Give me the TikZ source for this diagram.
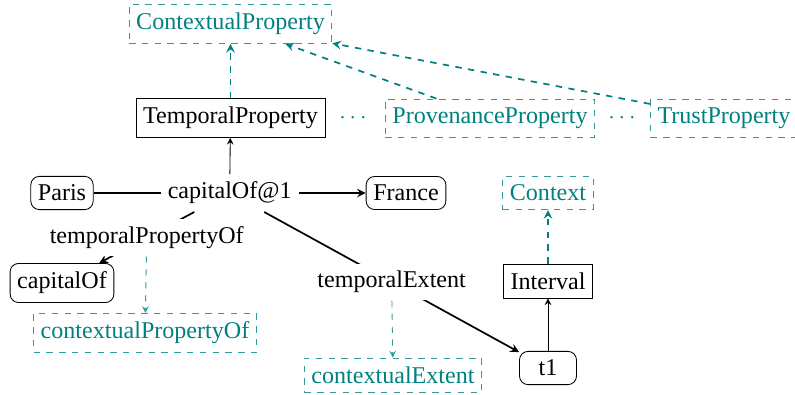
\documentclass[tikz,border=0pt]{standalone}
\usepackage{fontspec}
\setmainfont{Liberation Serif}
\usetikzlibrary{arrows}
\definecolor{ctxcolor}{RGB}{0,128,128}
\tikzset{
    resource/.style={draw, rounded corners=4pt, inner ysep=4pt},
    class/.style={draw, inner ysep=4pt},
    ctxclass/.style={draw=ctxcolor!80, dashed, text=ctxcolor, inner ysep=4pt},
    prop/.style={fill=white},
    relation/.style={->, thick},
    subclass/.style={->},
    ctxedge/.style={->, thick, dashed, ctxcolor},
    ctxlink/.style={->, dashed, ctxcolor!80}
}
\begin{document}
\begin{tikzpicture}[>=stealth, x=0.0165cm, y=-0.0165cm, font=\fontsize{11.3}{13}\selectfont]
        \useasboundingbox (0,0) rectangle (795,394);
        % Define classes
        \node[ctxclass] (ctxprop) at (230.5,24) {ContextualProperty};
        \node[class] (tprop) at (230.5,118) {TemporalProperty};
        \node[ctxclass] (provprop) at (490,118) {ProvenanceProperty};
        \node[ctxclass] (trustprop) at (724,118) {TrustProperty};
        \node[text=ctxcolor] (dots1) at (353,118) {$\cdots$};
        \node[text=ctxcolor] (dots2) at (622,118) {$\cdots$};
        \node[ctxclass] (context) at (548,193) {Context};
        \node[class] (interval) at (548,281) {Interval};
        \node[ctxclass] (ctxpropof) at (145,333) {contextualPropertyOf};
        \node[ctxclass] (ctxext) at (393,375) {contextualExtent};
        
        % Define resources
        \node[resource] (paris) at (62,193) {Paris};
        \node[resource] (france) at (406,193) {France};
        \node[resource] (capof) at (62,283) {capitalOf};
        \node[resource, minimum width=0.94cm] (t1) at (548,368) {t1};
        
        % Draw edges
        \draw[relation] (paris) -- node[prop] (cap1) {capitalOf@1} (france);
        \draw[relation] (cap1) -- node[prop] (tpof) {temporalPropertyOf} (capof);
        \draw[relation] (cap1) -- node[prop] (tempext) {temporalExtent} (t1);
        \draw[subclass] (cap1) -- (tprop);
        \draw[subclass] (t1) -- (interval);
        
        \draw[ctxedge] (tprop) -- (ctxprop);
        \draw[ctxedge] (provprop) -- (ctxprop);
        \draw[ctxedge] (trustprop) -- (ctxprop);
        \draw[ctxedge] (interval) -- (context);
        \draw[ctxlink] (tpof) -- (ctxpropof);
        \draw[ctxlink] (tempext) -- (ctxext);
    \end{tikzpicture}
\end{document}
